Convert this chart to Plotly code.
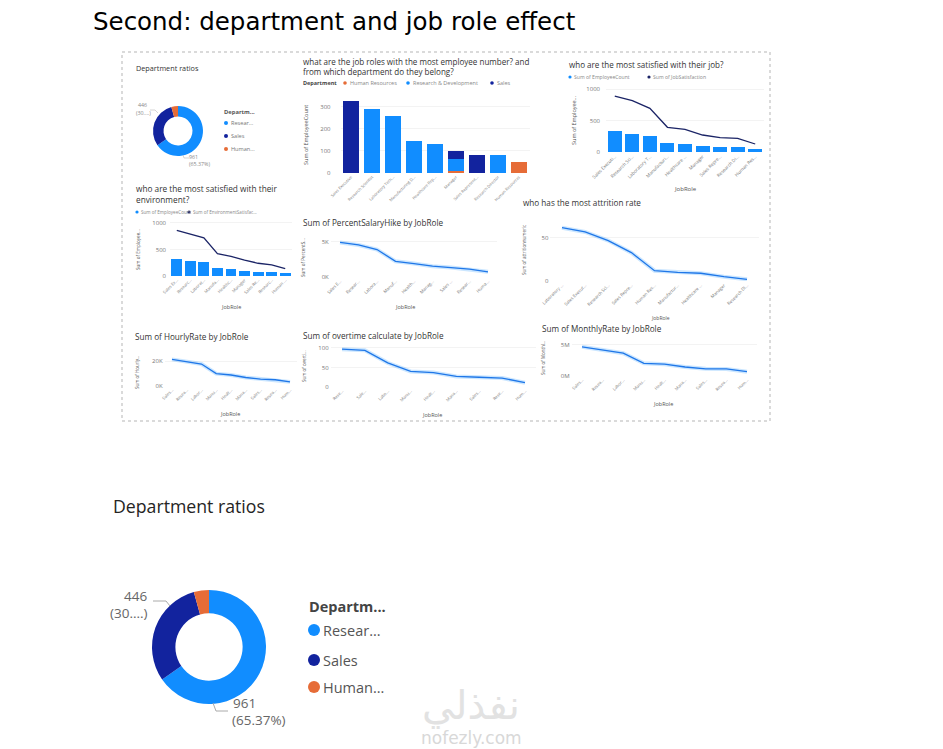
import plotly.graph_objects as go

W, H = 943, 749
OFF = 8  # page body margin
FONT = "Open Sans"
S = 1.12  # small text scale

# ---------------- data ----------------
roles = ["Sales Executive", "Research Scientist", "Laboratory Technician",
         "Manufacturing Director", "Healthcare Representative", "Manager",
         "Sales Representative", "Research Director", "Human Resources"]
dept_labels = ["Research & Development", "Sales", "Human Resources"]
dept_counts = [961, 446, 63]

hr_by_role = [0, 0, 0, 0, 0, 11, 0, 0, 52]
rd_by_role = [0, 292, 259, 145, 131, 54, 0, 80, 0]
sales_by_role = [326, 0, 0, 0, 0, 37, 83, 0, 0]

emp_count = [326, 292, 259, 145, 131, 102, 83, 80, 52]
job_sat = [889, 815, 693, 392, 360, 270, 228, 217, 127]
env_sat = [860, 790, 720, 420, 370, 300, 240, 210, 140]
salary_hike = [4900, 4540, 3890, 2220, 1900, 1530, 1340, 1110, 740]
hourly_rate = [21300, 19700, 17600, 9900, 8800, 6800, 5500, 5000, 3300]
monthly_rate = [4700000, 4160000, 3670000, 2050000, 1900000, 1450000, 1160000, 1140000, 700000]

attr_roles = ["Laboratory Technician", "Sales Executive", "Research Scientist",
              "Sales Representative", "Human Resources", "Manufacturing Director",
              "Healthcare Representative", "Manager", "Research Director"]
attrition = [62, 57, 47, 33, 12, 10, 9, 5, 2]

ot_roles = ["Research Scientist", "Sales Executive", "Laboratory Technician",
            "Manufacturing Director", "Healthcare Representative", "Manager",
            "Sales Representative", "Research Director", "Human Resources"]
overtime = [97, 94, 62, 40, 37, 27, 25, 23, 11]

# tick labels (truncated as displayed)
bar_ticks = ["Sales Executive", "Research Scientist", "Laboratory Tech...", "Manufacturing D...",
             "Healthcare Rep...", "Manager", "Sales Represent...", "Research Director", "Human Resources"]
job_ticks = ["Sales Executi...", "Research Sci...", "Laboratory T...", "Manufacturi...",
             "Healthcare ...", "Manager", "Sales Repre...", "Research Di...", "Human Res..."]
env_ticks = ["Sales Ex...", "Researc...", "Laborat...", "Manufa...", "Healthc...",
             "Manager", "Sales Re...", "Researc...", "Human ..."]
short_ticks = ["Sales E...", "Resear...", "Labora...", "Manuf...", "Health...",
               "Manag...", "Sales ...", "Resear...", "Huma..."]
attr_ticks = ["Laboratory ...", "Sales Execut...", "Research Sci...", "Sales Repre...",
              "Human Res...", "Manufactur...", "Healthcare ...", "Manager", "Research Di..."]
tiny_ticks = ["Sales...", "Resea...", "Labor...", "Manu...", "Healt...",
              "Mana...", "Sales...", "Resea...", "Hum..."]
ot_ticks = ["Rese...", "Sale...", "Labo...", "Manu...", "Healt...",
            "Mana...", "Sales...", "Rese...", "Hum..."]

LB = "#118DFF"
DB = "#12239E"
OR = "#E66C37"
NAVY = "#1B2466"

fig = go.Figure()
ann = []
shapes = []


def X(px):
    return (px - OFF) / W


def Y(py):
    return 1 - (py - OFF) / H


def T(x, y, text, size, color="#333", xa="left", ya="middle", bold=False, angle=0, font=FONT):
    ann.append(dict(x=X(x), y=Y(y), xref="paper", yref="paper",
                    text=f"<b>{text}</b>" if bold else text, showarrow=False,
                    xanchor=xa, yanchor=ya, textangle=angle, align="left",
                    font=dict(size=size, color=color, family=font)))


def dot(cx, cy, r, color):
    shapes.append(dict(type="circle", xref="paper", yref="paper",
                       x0=X(cx - r), x1=X(cx + r), y0=Y(cy + r), y1=Y(cy - r),
                       fillcolor=color, line=dict(width=0)))


def seg(points, color="#aaa", width=1):
    path = "M " + " L ".join(f"{X(x)},{Y(y)}" for x, y in points)
    shapes.append(dict(type="path", xref="paper", yref="paper", path=path,
                       line=dict(color=color, width=width)))


def axes(n, xpx, ypx, cats, ticktext, yrange, yvals, ytext, xfont=4.5, standoff=1):
    sx = "" if n == 1 else str(n)
    fig.update_layout(**{
        f"xaxis{sx}": dict(domain=[X(xpx[0]), X(xpx[1])], anchor=f"y{sx}", type="category",
                           categoryorder="array", categoryarray=cats, range=[-0.5, 8.5],
                           tickmode="array", tickvals=cats, ticktext=ticktext, tickangle=-45,
                           tickfont=dict(size=xfont, color="#777", family=FONT),
                           showgrid=False, zeroline=False, showline=False, ticks="",
                           automargin=False, fixedrange=True),
        f"yaxis{sx}": dict(domain=[Y(ypx[1]), Y(ypx[0])], anchor=f"x{sx}", range=yrange,
                           tickmode="array", tickvals=yvals, ticktext=ytext,
                           tickfont=dict(size=6, color="#777", family=FONT),
                           showgrid=True, gridcolor="#f3f3f3", gridwidth=0.5,
                           zeroline=False, showline=False, ticks="", automargin=False,
                           ticklabelstandoff=standoff, fixedrange=True),
    })
    return ("x" + sx, "y" + sx)


def glow_line(xa, ya, cats, vals):
    fig.add_trace(go.Scatter(x=cats, y=vals, mode="lines", xaxis=xa, yaxis=ya,
                             line=dict(color="rgba(17,141,255,0.22)", width=4), hoverinfo="skip",
                             showlegend=False))
    fig.add_trace(go.Scatter(x=cats, y=vals, mode="lines", xaxis=xa, yaxis=ya,
                             line=dict(color="#1F77E8", width=1.3), showlegend=False))


# ---------------- title ----------------
T(91, 21.5, "Second: department and job role effect", 24.5, "#000", font="DejaVu Sans")

# dashboard border
shapes.append(dict(type="rect", xref="paper", yref="paper", x0=X(122), x1=X(770),
                   y0=Y(421), y1=Y(52), line=dict(color="#b5b5b5", width=1, dash="dot")))

# ---------------- small donut ----------------
T(134, 68, "Department ratios", 6.5 * S, "#333")
fig.add_trace(go.Pie(labels=dept_labels, values=dept_counts, hole=0.58, sort=False,
                     direction="clockwise", rotation=0, textinfo="none",
                     marker=dict(colors=[LB, DB, OR], line=dict(width=0)),
                     domain=dict(x=[X(153), X(203)], y=[Y(156), Y(106)]),
                     showlegend=False))
T(142, 105, "446", 5.3, "#888", xa="center")
T(143, 113, "(30....)", 5.3, "#888", xa="center")
T(193, 157, "961", 5.3, "#888", xa="center")
T(199, 164, "(65.37%)", 5.3, "#888", xa="center")
seg([(150, 110), (155, 110), (158, 113)], "#bbb", 0.6)
seg([(183, 155), (184, 158), (189, 158)], "#bbb", 0.6)
T(222, 112, "Departm...", 5.8, "#555", bold=True)
for (cy, lab, col) in [(123, "Resear...", LB), (136, "Sales", DB), (149, "Human...", OR)]:
    dot(226, cy, 2, col)
    T(229, cy, lab, 5.6, "#777")

# ---------------- chart 2: stacked bars ----------------
T(301, 66.5, "what are the job roles with the most employee number? and<br>from which department do they belong?",
  7.2 * S, "#333")
T(301, 83, "Department", 5.5, "#444", bold=True)
for (cx, lab, col) in [(345, "Human Resources", OR), (408, "Research & Development", LB), (492, "Sales", DB)]:
    dot(cx, 83, 1.8, col)
    T(cx + 2.5, 83, lab, 5.5, "#888")
xa, ya = axes(1, (340.5, 529.5), (97, 173), roles, bar_ticks, [0, 345], [0, 100, 200, 300],
              ["0", "100", "200", "300"], xfont=4.0, standoff=9)
for vals, col, name in [(hr_by_role, OR, "Human Resources"), (rd_by_role, LB, "Research & Development"),
                        (sales_by_role, DB, "Sales")]:
    fig.add_trace(go.Bar(x=roles, y=vals, marker=dict(color=col, line=dict(width=0)), name=name,
                         xaxis=xa, yaxis=ya, showlegend=False))
T(306, 135, "Sum of EmployeeCount", 5.5, "#555", xa="center", angle=-90)

# ---------------- chart 3: job satisfaction ----------------
T(567, 64, "who are the most satisfied with their job?", 7.2 * S, "#333")
dot(570, 77, 1.6, LB)
T(572, 77, "Sum of EmployeeCount", 5.1, "#888")
dot(649, 77, 1.6, NAVY)
T(651, 77, "Sum of JobSatisfaction", 5.1, "#888")
xa, ya = axes(2, (606, 764), (86, 152), roles, job_ticks, [0, 1048], [0, 500, 1000],
              ["0", "500", "1000"], xfont=4.6, standoff=5)
fig.add_trace(go.Bar(x=roles, y=emp_count, marker=dict(color=LB, line=dict(width=0)),
                     xaxis=xa, yaxis=ya, showlegend=False))
fig.add_trace(go.Scatter(x=roles, y=job_sat, mode="lines", line=dict(color=NAVY, width=1.3),
                         xaxis=xa, yaxis=ya, showlegend=False))
T(574, 120, "Sum of Employee...", 5.5, "#555", xa="center", angle=-90)
T(685, 189, "JobRole", 6, "#555", xa="center")

# ---------------- chart 4: environment satisfaction ----------------
T(134, 194, "who are the most satisfied with their<br>environment?", 7.4 * S, "#333")
dot(137, 212, 1.6, LB)
T(139, 212, "Sum of EmployeeCount", 4.6, "#888")
dot(189, 212, 1.6, NAVY)
T(191, 212, "Sum of EnvironmentSatisfac...", 4.6, "#888")
xa, ya = axes(3, (170, 292), (219, 276), roles, env_ticks, [0, 1075], [0, 500, 1000],
              ["0", "500", "1000"], xfont=4.2, standoff=3)
fig.add_trace(go.Bar(x=roles, y=emp_count, marker=dict(color=LB, line=dict(width=0)),
                     xaxis=xa, yaxis=ya, showlegend=False))
fig.add_trace(go.Scatter(x=roles, y=env_sat, mode="lines", line=dict(color=NAVY, width=1.3),
                         xaxis=xa, yaxis=ya, showlegend=False))
T(138, 250, "Sum of Employee...", 4.6, "#555", xa="center", angle=-90)
T(231, 307, "JobRole", 5.5, "#555", xa="center")

# ---------------- chart 5: salary hike ----------------
T(301, 222, "Sum of PercentSalaryHike by JobRole", 7.3 * S, "#333")
xa, ya = axes(4, (330.75, 497.25), (235, 277), roles, short_ticks, [0, 5950], [0, 5000],
              ["0K", "5K"], xfont=4.4)
glow_line(xa, ya, roles, salary_hike)
T(303, 258, "Sum of PercentS...", 4.6, "#555", xa="center", angle=-90)
T(405, 307, "JobRole", 5.5, "#555", xa="center")

# ---------------- chart 6: attrition ----------------
T(521, 202, "who has the most attrition rate", 7.3 * S, "#333")
xa, ya = axes(5, (550.4, 758.6), (220, 281), attr_roles, attr_ticks, [0, 70.9], [0, 50],
              ["0", "50"], xfont=4.4)
glow_line(xa, ya, attr_roles, attrition)
T(524, 250, "Sum of attritionnumeric", 4.5, "#555", xa="center", angle=-90)
T(660, 317.5, "JobRole", 5, "#555", xa="center")

# ---------------- chart 7: hourly rate ----------------
T(133, 337, "Sum of HourlyRate by JobRole", 7.3 * S, "#333")
xa, ya = axes(6, (164.6, 297.4), (354, 386), roles, tiny_ticks, [0, 25600], [0, 20000],
              ["0K", "20K"], xfont=4.2)
glow_line(xa, ya, roles, hourly_rate)
T(137, 372, "Sum of Hourly...", 4.5, "#555", xa="center", angle=-90)
T(230, 414, "JobRole", 5.5, "#555", xa="center")

# ---------------- chart 8: overtime ----------------
T(301, 336, "Sum of overtime calculate by JobRole", 7.3 * S, "#333")
xa, ya = axes(7, (330.6, 536.4), (343, 387), ot_roles, ot_ticks, [0, 112.8], [0, 50, 100],
              ["0", "50", "100"], xfont=4.2)
glow_line(xa, ya, ot_roles, overtime)
T(304, 366, "Sum of overti...", 4.5, "#555", xa="center", angle=-90)
T(432, 415, "JobRole", 5.5, "#555", xa="center")

# ---------------- chart 9: monthly rate ----------------
T(540, 328, "Sum of MonthlyRate by JobRole", 7.3 * S, "#333")
xa, ya = axes(8, (571.7, 757.3), (340, 376), roles, tiny_ticks, [0, 5800000], [0, 5000000],
              ["0M", "5M"], xfont=4.2)
glow_line(xa, ya, roles, monthly_rate)
T(543, 358, "Sum of Monthl...", 4.5, "#555", xa="center", angle=-90)
T(663, 404, "JobRole", 5.5, "#555", xa="center")

# ---------------- big donut ----------------
T(111, 506, "Department ratios", 17.7, "#252423")
fig.add_trace(go.Pie(labels=dept_labels, values=dept_counts, hole=0.59, sort=False,
                     direction="clockwise", rotation=0, textinfo="none",
                     marker=dict(colors=[LB, DB, OR], line=dict(width=0)),
                     domain=dict(x=[X(152), X(266)], y=[Y(704), Y(590)]),
                     showlegend=False))
T(149, 596, "446", 13.5, "#666", xa="right")
T(150, 613, "(30....)", 13.5, "#666", xa="right")
T(231, 703, "961", 13.5, "#666")
T(230, 720, "(65.37%)", 13.5, "#666")
seg([(153, 601), (166, 601), (170, 606)], "#aaa", 1)
seg([(213, 703), (216, 711), (228, 711)], "#aaa", 1)
T(307, 606, "Departm...", 14.5, "#444", bold=True)
for (cy, lab, col) in [(630, "Resear...", LB), (660, "Sales", DB), (687, "Human...", OR)]:
    dot(314, cy, 6, col)
    T(321, cy, lab, 14.5, "#555")

# ---------------- watermark ----------------
T(471, 705, "نفذلي", 40, "#e2e2e2", xa="center", font="DejaVu Sans")
T(471, 738, "nofezly.com", 17, "#d8d8d8", xa="center", font="DejaVu Sans")

fig.update_layout(width=W, height=H, margin=dict(l=0, r=0, t=0, b=0),
                  paper_bgcolor="white", plot_bgcolor="white", barmode="stack",
                  bargap=0.2, annotations=ann, shapes=shapes, showlegend=False,
                  font=dict(family=FONT))
fig.write_html("out.html")
